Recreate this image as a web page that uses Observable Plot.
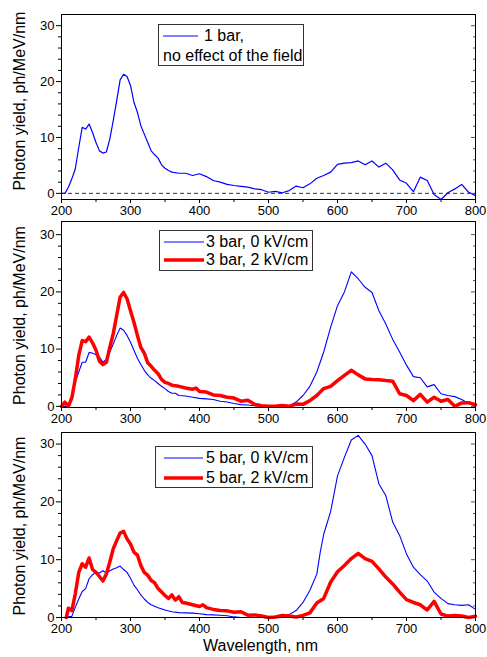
<!DOCTYPE html>
<html>
<head>
<meta charset="utf-8">
<script src="https://cdn.jsdelivr.net/npm/d3@7"></script>
<script src="https://cdn.jsdelivr.net/npm/@observablehq/plot@0.6"></script>
<style>
  html, body { margin: 0; padding: 0; background: #fff; }
  #chart { position: relative; width: 487px; height: 657px; font-family: "Liberation Sans", Arial, sans-serif; }
  #chart svg { display: block; }
  .leg { position: absolute; border: 1px solid #333; background: #fff; box-sizing: border-box; }
  .leg span { position: absolute; font-size: 16px; line-height: 16px; white-space: nowrap; color: #000; }
  .leg svg { position: absolute; left: 0; top: 0; overflow: visible; }
</style>
</head>
<body>
<div id="chart"></div>
<script>
// ---- Data ----
const xTicks = [200, 300, 400, 500, 600, 700, 800];
const xMinor = [250, 350, 450, 550, 650, 750];
const yTicks = [0, 10, 20, 30];
const yMinor = [2, 4, 6, 8, 12, 14, 16, 18, 22, 24, 26, 28];
const yLabel = "Photon yield, ph/MeV/nm";
const xLabel = "Wavelength, nm";

// Panel 1: 1 bar, no effect of the field
const p1Wl = [200,205,210,215,220,225,230,235,240,245,250,255,260,265,270,275,280,285,290,295,300,305,310,315,320,325,330,335,340,345,350,355,360,370,380,390,400,410,420,430,440,450,460,470,480,490,500,510,520,530,540,550,560,570,580,590,600,610,620,630,640,650,660,670,680,690,700,710,720,730,740,750,760,770,780,790,800];
const p1Y  = [0,0,1.1,2.6,4.4,8.2,11.8,11.5,12.4,10.9,9.1,7.6,7.2,7.4,9.7,13,16.6,20.3,21.3,20.9,19.3,16.3,14.5,12.1,10.6,9.1,7.6,6.9,6.3,5.1,4.5,4.1,3.8,3.6,3.6,3.2,3.5,3.0,2.3,2.0,1.6,1.4,1.25,1.1,0.8,0.65,0.2,0.35,0.1,0.5,1.3,1.0,1.7,2.7,3.2,3.8,5.2,5.4,5.5,5.8,5.1,5.8,4.7,5.4,4.2,2.4,1.8,0.3,2.9,2.3,-0.2,-1.1,0.1,0.8,1.6,0.2,-0.4];

// Panel 2: 3 bar
const p2BlueWl = [200,205,210,215,220,225,230,235,240,245,250,255,260,265,270,275,280,285,290,295,300,305,310,315,320,325,330,335,340,345,350,355,360,365,370,380,390,400,410,420,430,440,450,460,470,480,490,500,510,520,530,540,550,560,570,580,590,600,610,620,630,640,650,660,670,680,690,700,710,720,730,740,750,760,770,780,790,800];
const p2BlueY  = [0,0,0,1.9,4.2,6,7.7,7.7,9.4,9.3,9.0,8.6,7.7,8.2,9.5,10.9,12.4,13.7,13.3,12.4,11.2,9.8,8.4,7.3,6.3,5.5,4.9,4.5,4.0,3.5,3.1,2.6,2.3,2.3,1.9,1.8,1.6,1.4,1.3,1.2,0.9,0.75,0.5,0.3,0.25,0.1,0,0,0,0,0.05,0.75,1.9,3.5,6,9.5,13.8,17.6,20,23.5,22.3,20.8,19.9,16.7,14.4,11.7,9.5,7.2,5.2,5.0,3.4,3.8,2.2,1.9,1.7,1.2,0.5,0];
const p2RedWl  = [200,205,210,215,220,225,230,235,240,245,250,255,260,265,270,275,280,285,290,295,300,305,310,315,320,325,330,335,340,345,350,355,360,370,380,390,395,400,410,420,430,440,450,460,470,480,490,500,510,520,530,540,550,560,570,580,590,600,610,620,630,640,650,660,670,680,690,700,710,720,730,740,750,760,770,780,790,800];
const p2RedY   = [0,0.75,0,1.5,4.8,8.9,11.5,11.3,12.1,11.1,9.8,7.9,7.3,7.7,10.3,12.7,15.9,19.1,19.9,18.8,16.7,14.7,12.4,10.3,9.3,7.6,7.0,6.3,5.7,4.7,4.2,4.0,3.7,3.5,3.2,3.0,3.2,2.6,2.5,2.0,1.9,1.6,1.45,0.9,1.05,0.35,0.1,0,0,0.15,0,0.4,0.35,1.0,1.9,3.1,3.5,4.5,5.4,6.3,5.5,4.8,4.7,4.65,4.5,4.4,2.2,1.9,1.0,2.1,0.75,1.6,0.9,1.2,0,0.6,0.65,0.3];

// Panel 3: 5 bar
const p3BlueWl = [200,205,210,215,220,225,230,235,240,245,250,255,260,265,270,275,280,285,290,295,300,305,310,315,320,325,330,340,350,360,370,380,390,400,410,420,430,440,450,460,470,480,490,500,510,520,530,540,550,560,570,575,580,590,600,610,620,630,640,650,660,670,680,690,700,710,720,730,740,750,760,770,780,790,800];
const p3BlueY  = [0,0,0.15,0.2,1.8,3.2,4.5,5.0,6.7,7.4,7.8,7.7,8.1,7.7,8.1,8.4,8.6,8.9,8.3,7.8,6.8,5.6,4.8,3.9,3.2,2.6,2.2,1.7,1.3,1.0,0.85,0.8,0.75,0.65,0.5,0.45,0.4,0.3,0.1,0,0,0,0,0,0,0.2,0.5,1.2,2.6,4.7,7.5,11.3,14.4,18.3,24.5,27.7,30.7,31.5,30,28,23.1,21.1,16.5,14.2,11,8.7,7.4,6.3,4.4,3.3,2.4,2.2,2.1,2.2,1.4];
const p3RedWl  = [207,210,215,220,225,230,235,240,245,250,255,260,265,270,275,280,285,290,295,300,305,310,315,320,325,330,335,340,345,350,355,360,365,370,375,380,390,400,405,410,420,430,440,450,460,470,480,490,500,510,520,530,540,550,560,570,580,590,600,610,620,630,640,650,660,670,680,690,700,710,720,730,740,750,760,770,780,790,800];
const p3RedY   = [0,1.6,1.2,4.1,7.8,9.3,8.7,10.3,8.3,7.8,7.1,6.3,7.5,9.6,11.9,13.3,14.6,14.9,13.6,12.7,11.3,10.8,9.0,7.8,7.3,6.4,6.0,5.0,4.4,3.8,3.3,3.9,3.0,3.6,2.6,2.5,2.2,1.9,2.2,1.7,1.4,1.2,1.15,0.9,1.0,0.4,0.45,0.25,0,0.1,0.35,0.25,0.1,0.35,0.8,2.5,3.3,6.1,7.9,9.0,10.2,11.1,10.2,9.7,8.4,7.0,5.8,4.4,3.1,2.6,2.2,1.3,2.8,0.6,0.25,0.35,0.25,0,0.2];

const legend1 = ["1 bar,", "no effect of the field"];
const legend2 = ["3 bar, 0 kV/cm", "3 bar, 2 kV/cm"];
const legend3 = ["5 bar, 0 kV/cm", "5 bar, 2 kV/cm"];

const BLUE = "#0000ff", RED = "#ff0000";
const toRows = (wl, ys) => wl.map((w, i) => ({w, v: ys[i]}));

function panel({height, marginTop, marginBottom, yDomain, series, zeroRule, labelDy, showXLabel}) {
  const marks = [];
  if (zeroRule) marks.push(Plot.ruleY([0], {stroke: "#333", strokeDasharray: "4,3", strokeWidth: 1}));
  for (const s of series) {
    marks.push(Plot.line(toRows(s.wl, s.y), {x: "w", y: "v", stroke: s.color, strokeWidth: s.width, curve: "linear"}));
  }
  marks.push(
    Plot.axisY(yTicks, {anchor: "left", tickSize: 5, tickPadding: 2, label: null, fontSize: 13}),
    Plot.axisY(yMinor.filter(d => d < yDomain[1]), {anchor: "left", tickSize: 3, tickFormat: () => "", label: null}),
    Plot.axisY(yTicks, {anchor: "right", tickSize: -5, tickFormat: () => "", label: null, stroke: "#555"}),
    Plot.axisY(yMinor.filter(d => d < yDomain[1]), {anchor: "right", tickSize: -3, tickFormat: () => "", label: null, stroke: "#555"}),
    Plot.axisX(xTicks, {anchor: "bottom", tickSize: 4, tickPadding: 2, label: null, fontSize: 13}),
    Plot.axisX(xMinor, {anchor: "bottom", tickSize: 3, tickFormat: () => "", label: null}),
    Plot.frame({stroke: "#000", strokeWidth: 1}),
    Plot.text([yLabel], {frameAnchor: "left", textAnchor: "middle", lineAnchor: "middle", rotate: -90, dx: -42, dy: labelDy, fontSize: 16, fill: "#000"})
  );
  if (showXLabel) marks.push(Plot.text([xLabel], {frameAnchor: "bottom", textAnchor: "middle", lineAnchor: "middle", dy: 28, dx: -8, fontSize: 16, fill: "#000"}));
  return Plot.plot({
    width: 487, height, marginLeft: 61, marginRight: 12, marginTop, marginBottom,
    style: {fontFamily: '"Liberation Sans", Arial, sans-serif', fontSize: "13px", color: "#000", background: "transparent", overflow: "visible"},
    x: {domain: [200, 800], axis: null},
    y: {domain: yDomain, axis: null},
    marks
  });
}

const chart = document.getElementById("chart");
chart.appendChild(panel({height: 216, marginTop: 14, marginBottom: 17, yDomain: [-1.1, 32],
  series: [{wl: p1Wl, y: p1Y, color: BLUE, width: 1.2}], zeroRule: true, labelDy: -6}));
chart.appendChild(panel({height: 212, marginTop: 5, marginBottom: 21, yDomain: [-0.2, 32.3],
  series: [{wl: p2BlueWl, y: p2BlueY, color: BLUE, width: 1.1}, {wl: p2RedWl, y: p2RedY, color: RED, width: 3.5}], labelDy: 1}));
chart.appendChild(panel({height: 229, marginTop: 4, marginBottom: 40, yDomain: [0, 32],
  series: [{wl: p3BlueWl, y: p3BlueY, color: BLUE, width: 1.1}, {wl: p3RedWl, y: p3RedY, color: RED, width: 3.5}], labelDy: 1, showXLabel: true}));

// ---- Legends (HTML overlays) ----
function addLegend(box, items) {
  const d = document.createElement("div");
  d.className = "leg";
  Object.assign(d.style, {left: box.left + "px", top: box.top + "px", width: box.w + "px", height: box.h + "px"});
  const ns = "http://www.w3.org/2000/svg";
  const svg = document.createElementNS(ns, "svg");
  svg.setAttribute("width", box.w); svg.setAttribute("height", box.h);
  for (const it of items) {
    if (it.color) {
      const ln = document.createElementNS(ns, "line");
      ln.setAttribute("x1", it.x1); ln.setAttribute("x2", it.x2);
      ln.setAttribute("y1", it.cy); ln.setAttribute("y2", it.cy);
      ln.setAttribute("stroke", it.color); ln.setAttribute("stroke-width", it.width);
      svg.appendChild(ln);
    }
  }
  d.appendChild(svg);
  for (const it of items) {
    const s = document.createElement("span");
    s.textContent = it.text;
    s.style.left = it.tx + "px";
    s.style.top = (it.cy - 8) + "px";
    d.appendChild(s);
  }
  chart.appendChild(d);
}
addLegend({left: 158, top: 24, w: 146, h: 42}, [
  {text: legend1[0], color: BLUE, width: 1.2, x1: 4, x2: 39, cy: 11, tx: 45},
  {text: legend1[1], tx: 4, cy: 31}
]);
addLegend({left: 159, top: 230, w: 154, h: 41}, [
  {text: legend2[0], color: BLUE, width: 1.1, x1: 4, x2: 44, cy: 11, tx: 46},
  {text: legend2[1], color: RED, width: 3.5, x1: 4, x2: 44, cy: 29, tx: 46}
]);
addLegend({left: 155, top: 446, w: 158, h: 42}, [
  {text: legend3[0], color: BLUE, width: 1.1, x1: 8, x2: 47, cy: 11, tx: 50},
  {text: legend3[1], color: RED, width: 3.5, x1: 8, x2: 47, cy: 31, tx: 50}
]);
</script>
</body>
</html>
